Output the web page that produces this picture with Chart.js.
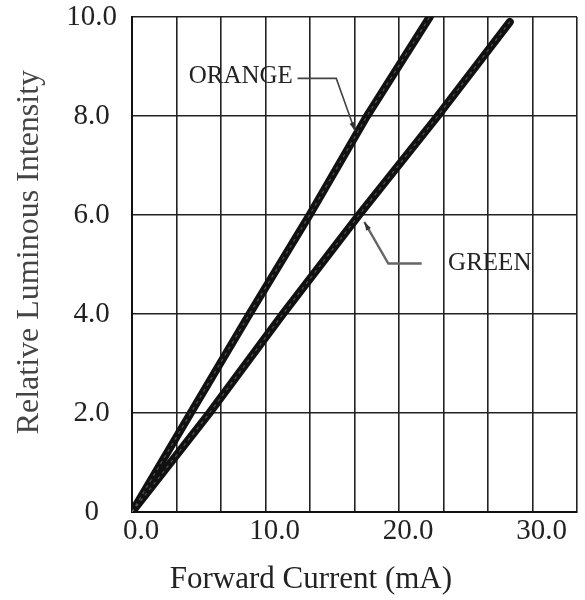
<!DOCTYPE html>
<html>
<head>
<meta charset="utf-8">
<script src="https://cdn.jsdelivr.net/npm/chart.js@4"></script>
<style>
html,body{margin:0;padding:0;background:#fff;}
#wrap{width:585px;height:600px;position:relative;}
</style>
</head>
<body>
<div id="wrap"><canvas id="c"></canvas></div>
<script>
// ---- data ----
const orangeX = [0, 4.4, 8.8, 13.3, 17.6, 22.3];
const orangeY = [0, 2.0, 4.0, 6.0, 8.0, 10.0];
const greenX  = [0, 5.8, 11.3, 17.0, 22.9, 28.3];
const greenY  = [0, 2.0, 4.0, 6.0, 8.0, 9.9];
const xTickValues = [0, 10/3, 20/3, 10, 40/3, 50/3, 20, 70/3, 80/3, 30, 100/3];
const xTickLabels = ['0.0', '', '', '10.0', '', '', '20.0', '', '', '30.0', ''];
const yTickValues = [0, 2, 4, 6, 8, 10];
const yTickLabels = ['0', '2.0', '4.0', '6.0', '8.0', '10.0'];
const seriesNames = ['ORANGE', 'GREEN'];
const xTitle = 'Forward Current (mA)';
const yTitle = 'Relative Luminous Intensity';

// annotation anchors (in data units)
const labelNotes = [
  { text: 'ORANGE', at: [8.15, 8.8], path: [[12.4, 8.76], [15.3, 8.76], [16.7, 7.7]], lw: 1.6, color: '#444' },
  { text: 'GREEN',  at: [26.8, 5.03], path: [[21.7, 5.02], [19.2, 5.02], [17.4, 5.86]], lw: 2.4, color: '#666' }
];
// axis title anchors: x title centred at this data x; y title centred at this data y
const xTitleAt = 13.4;
const yTitleAt = 5.25;

const FONT = '"Liberation Serif", "Times New Roman", serif';

const pts = (xs, ys) => xs.map((x, i) => ({ x: x, y: ys[i] }));

const annotPlugin = {
  id: 'annot',
  afterDatasetsDraw(chart) {
    const ctx = chart.ctx;
    const xs = chart.scales.x, ys = chart.scales.y;
    chart.data.datasets.forEach((ds, di) => {
      const meta = chart.getDatasetMeta(di);
      ctx.save();
      ctx.beginPath();
      ctx.rect(chart.chartArea.left, chart.chartArea.top, chart.chartArea.right - chart.chartArea.left, chart.chartArea.bottom - chart.chartArea.top);
      ctx.clip();
      ctx.strokeStyle = 'rgba(140,140,140,0.55)';
      ctx.lineWidth = 1.2;
      ctx.setLineDash([3, 4]);
      ctx.beginPath();
      meta.data.forEach((p, i) => { if (i === 0) ctx.moveTo(p.x, p.y); else ctx.lineTo(p.x, p.y); });
      ctx.stroke();
      ctx.restore();
    });
    labelNotes.forEach((n) => {
      ctx.save();
      ctx.strokeStyle = n.color;
      ctx.lineWidth = n.lw;
      ctx.beginPath();
      n.path.forEach((p, i) => {
        const px = xs.getPixelForValue(p[0]), py = ys.getPixelForValue(p[1]);
        if (i === 0) ctx.moveTo(px, py); else ctx.lineTo(px, py);
      });
      ctx.stroke();
      const a = n.path[n.path.length - 2], b = n.path[n.path.length - 1];
      const ax = xs.getPixelForValue(a[0]), ay = ys.getPixelForValue(a[1]);
      const bx = xs.getPixelForValue(b[0]), by = ys.getPixelForValue(b[1]);
      const ang = Math.atan2(by - ay, bx - ax);
      ctx.fillStyle = '#333';
      ctx.beginPath();
      ctx.moveTo(bx, by);
      ctx.lineTo(bx - 9 * Math.cos(ang - 0.3), by - 9 * Math.sin(ang - 0.3));
      ctx.lineTo(bx - 9 * Math.cos(ang + 0.3), by - 9 * Math.sin(ang + 0.3));
      ctx.closePath();
      ctx.fill();
      ctx.fillStyle = '#222';
      ctx.font = '25px ' + FONT;
      ctx.textAlign = 'center';
      ctx.textBaseline = 'middle';
      ctx.fillText(n.text, xs.getPixelForValue(n.at[0]), ys.getPixelForValue(n.at[1]));
      ctx.restore();
    });
    // axis titles
    ctx.save();
    ctx.textAlign = 'center';
    ctx.textBaseline = 'middle';
    ctx.fillStyle = '#222';
    ctx.font = '31px ' + FONT;
    ctx.fillText(xTitle, xs.getPixelForValue(xTitleAt), xs.bottom - 20);
    ctx.translate(ys.left + 30, ys.getPixelForValue(yTitleAt));
    ctx.rotate(-Math.PI / 2);
    ctx.fillStyle = '#444';
    ctx.font = '32px ' + FONT;
    ctx.fillText(yTitle, 0, 0);
    ctx.restore();
  }
};

new Chart(document.getElementById('c'), {
  type: 'line',
  data: {
    datasets: [
      { label: seriesNames[0], data: pts(orangeX, orangeY), borderColor: '#111', borderWidth: 8, pointRadius: 0, tension: 0, borderCapStyle: 'round' },
      { label: seriesNames[1], data: pts(greenX, greenY), borderColor: '#111', borderWidth: 8, pointRadius: 0, tension: 0, borderCapStyle: 'round' }
    ]
  },
  options: {
    responsive: true,
    maintainAspectRatio: false,
    animation: false,
    layout: { padding: { left: 0, right: 8, top: 17, bottom: 0 } },
    plugins: { legend: { display: false }, tooltip: { enabled: false } },
    scales: {
      x: {
        type: 'linear',
        min: 0,
        max: 100 / 3,
        afterBuildTicks: (s) => { s.ticks = xTickValues.map(v => ({ value: v })); },
        afterFit: (s) => { s.height = 88; s.paddingLeft = 0; s.paddingRight = 0; },
        ticks: {
          autoSkip: false, maxRotation: 0, labelOffset: 9, padding: 2,
          color: '#222', font: { family: FONT, size: 29 },
          callback: (v, i) => xTickLabels[i]
        },
        grid: { color: '#222', lineWidth: 1.6, drawTicks: false },
        border: { color: '#111', width: 2 },
        title: { display: false, text: xTitle }
      },
      y: {
        type: 'linear',
        min: 0,
        max: 10,
        afterBuildTicks: (s) => { s.ticks = yTickValues.map(v => ({ value: v })); },
        afterFit: (s) => { s.width = 132; s.paddingTop = 0; s.paddingBottom = 0; },
        ticks: {
          autoSkip: false, padding: 15, crossAlign: 'center',
          color: '#222', font: { family: FONT, size: 29 },
          callback: (v, i) => yTickLabels[i]
        },
        grid: { color: '#222', lineWidth: 1.6, drawTicks: false },
        border: { color: '#111', width: 2 },
        title: { display: false, text: yTitle }
      }
    }
  },
  plugins: [annotPlugin]
});
</script>
</body>
</html>
